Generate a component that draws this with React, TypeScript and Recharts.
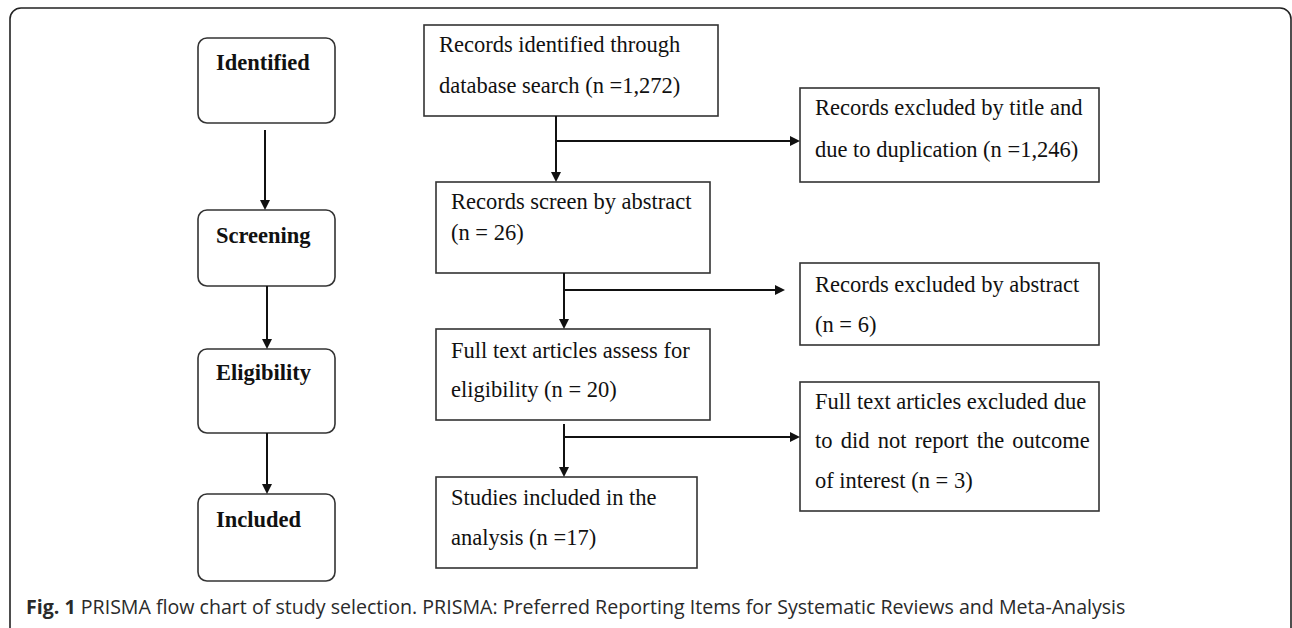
import React from "react"
import { ComposedChart, XAxis, YAxis, ReferenceArea, ReferenceLine, Customized } from "recharts"

/* PRISMA flow diagram drawn on a pixel-scaled number/number plane. */

const W = 1292
const H = 628

// stage column (rounded boxes)
const stageLabels = ["Identified", "Screening", "Eligibility", "Included"]
const stageX = [198, 335]
const stageY: [number, number][] = [[38, 123], [210, 286], [349, 433], [494, 581]]
const stageBaseline = [32, 33, 31, 33]

// flow boxes: main column then exclusions
const flowText: string[][] = [
  ["Records identified through", "database search (n =1,272)"],
  ["Records screen by abstract", "(n = 26)"],
  ["Full text articles assess for", "eligibility (n = 20)"],
  ["Studies included in the", "analysis (n =17)"],
  ["Records excluded by title and", "due to duplication (n =1,246)"],
  ["Records excluded by abstract", "(n = 6)"],
  ["Full text articles excluded due", "to did not report the outcome", "of interest (n = 3)"],
]
const flowBox: [number, number, number, number][] = [
  [424, 718, 25, 116],
  [436, 710, 182, 273],
  [436, 710, 329, 420],
  [436, 697, 477, 568],
  [800, 1099, 88, 182],
  [800, 1099, 263, 345],
  [800, 1099, 382, 511],
]
const flowBaselines: number[][] = [
  [27, 68],
  [27, 58],
  [29, 68],
  [28, 68],
  [27, 69],
  [29, 69],
  [27, 66, 106],
]

// connectors [x1, y1, x2, y2], all end with an arrowhead
const arrows: [number, number, number, number][] = [
  [265, 130, 265, 210],
  [267, 286, 267, 349],
  [267, 433, 267, 494],
  [556, 116, 556, 182],
  [556, 141, 800, 141],
  [564, 273, 564, 329],
  [564, 290, 785, 290],
  [564, 424, 564, 477],
  [564, 437, 800, 437],
]

const captionBold = "Fig. 1"
const captionRest = " PRISMA flow chart of study selection. PRISMA: Preferred Reporting Items for Systematic Reviews and Meta-Analysis"

const SERIF = "'Liberation Serif', 'Times New Roman', serif"
// the justified middle line of the last exclusion box
const JUSTIFIED = { box: 6, line: 1, wordSpacing: 2.6 }

function Arrow(p: any) {
  const { x1, y1, x2, y2 } = p
  const dx = x2 - x1
  const dy = y2 - y1
  const len = Math.hypot(dx, dy) || 1
  const ux = dx / len
  const uy = dy / len
  const L = 10
  const hw = 5
  const bx = x2 - ux * L
  const by = y2 - uy * L
  const pts = `${x2},${y2} ${bx - uy * hw},${by + ux * hw} ${bx + uy * hw},${by - ux * hw}`
  return (
    <g>
      <line x1={x1} y1={y1} x2={bx} y2={by} stroke="#111" strokeWidth={2} />
      <polygon points={pts} fill="#111" />
    </g>
  )
}

function StageBox(p: any, label: string, base: number) {
  return (
    <g>
      <rect x={p.x} y={p.y} width={p.width} height={p.height} rx={9} ry={9} fill="#fff" stroke="#333" strokeWidth={1.6} />
      <text x={p.x + 18} y={p.y + base} fontFamily={SERIF} fontWeight="bold" fontSize={22.5} fill="#111">
        {label}
      </text>
    </g>
  )
}

function FlowBox(p: any, idx: number, lines: string[], bases: number[]) {
  return (
    <g>
      <rect x={p.x} y={p.y} width={p.width} height={p.height} fill="#fff" stroke="#333" strokeWidth={1.6} />
      {lines.map((t, i) => (
        <text
          key={i}
          x={p.x + 15}
          y={p.y + bases[i]}
          fontFamily={SERIF}
          fontSize={22.5}
          fill="#111"
          style={idx === JUSTIFIED.box && i === JUSTIFIED.line ? { wordSpacing: JUSTIFIED.wordSpacing } : undefined}
        >
          {t}
        </text>
      ))}
    </g>
  )
}

function Frame(p: any) {
  return <rect x={p.x} y={p.y} width={p.width} height={p.height} rx={11} ry={11} fill="none" stroke="#222" strokeWidth={1.6} />
}

function Caption() {
  return (
    <text x={26} y={614} fontFamily="'Open Sans', sans-serif" fontSize={19.6} fill="#2a2a2a">
      <tspan fontWeight="bold">{captionBold}</tspan>
      <tspan>{captionRest}</tspan>
    </text>
  )
}

export default function App() {
  return (
    <div style={{ position: "absolute", left: 0, top: 0, width: W, height: H, background: "#fff" }}>
      <ComposedChart width={W} height={H} margin={{ top: 0, right: 0, bottom: 0, left: 0 }}>
        <XAxis type="number" dataKey="x" domain={[0, W]} allowDataOverflow hide />
        <YAxis type="number" dataKey="y" domain={[0, H]} allowDataOverflow reversed hide />
        <ReferenceArea x1={10} x2={1291} y1={8} y2={640} ifOverflow="visible" shape={Frame} />
        {stageLabels.map((label, i) => (
          <ReferenceArea
            key={label}
            x1={stageX[0]}
            x2={stageX[1]}
            y1={stageY[i][0]}
            y2={stageY[i][1]}
            ifOverflow="visible"
            shape={(p: any) => StageBox(p, label, stageBaseline[i])}
          />
        ))}
        {flowText.map((lines, i) => (
          <ReferenceArea
            key={i}
            x1={flowBox[i][0]}
            x2={flowBox[i][1]}
            y1={flowBox[i][2]}
            y2={flowBox[i][3]}
            ifOverflow="visible"
            shape={(p: any) => FlowBox(p, i, lines, flowBaselines[i])}
          />
        ))}
        {arrows.map((a, i) => (
          <ReferenceLine
            key={"a" + i}
            segment={[{ x: a[0], y: a[1] }, { x: a[2], y: a[3] }]}
            ifOverflow="visible"
            shape={Arrow}
          />
        ))}
        <Customized component={Caption} />
      </ComposedChart>
    </div>
  )
}
